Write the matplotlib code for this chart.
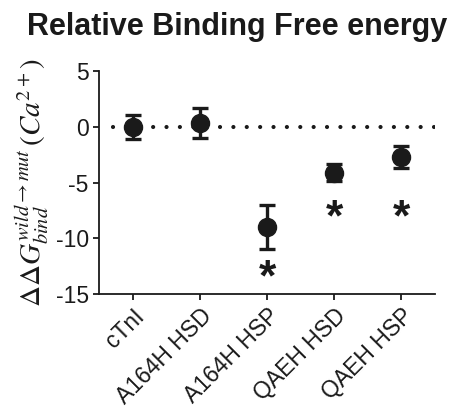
import matplotlib
matplotlib.use("Agg")
import matplotlib.pyplot as plt
import numpy as np

plt.rcParams['font.family'] = ['Liberation Sans', 'DejaVu Sans']
plt.rcParams['mathtext.fontset'] = 'stix'
plt.rcParams['axes.unicode_minus'] = False

# data
labels = ["cTnI", "A164H HSD", "A164H HSP", "QAEH HSD", "QAEH HSP"]
means = [0.0, 0.3, -9.0, -4.1, -2.7]
errors = [1.1, 1.35, 2.0, 0.8, 1.0]
star_y = [None, None, -12.4, -7.0, -7.0]

ink = '#1a1a1a'
fig = plt.figure(figsize=(4.55, 4.13), dpi=100)
ax = fig.add_axes([0.218, 0.288, 0.738, 0.54])

x = np.arange(len(labels))
ax.axhline(0, color=ink, linestyle=(0, (0.01, 3.2)), linewidth=3,
           dash_capstyle='round', xmin=0.041, zorder=1)
ax.errorbar(x, means, yerr=errors, fmt='o', color=ink, markersize=13,
            elinewidth=2.4, capsize=5.6, capthick=2.4, zorder=3)

star_fs = 32
for xi, sy in zip(x, star_y):
    if sy is not None:
        ax.annotate("*", (xi, sy), xytext=(0, -0.58 * star_fs),
                    textcoords='offset points', ha='center', va='baseline',
                    fontsize=star_fs, fontweight='bold', color=ink)

ax.set_xlim(-0.5, 4.5)
ax.set_ylim(-15, 5)
ax.set_yticks([5, 0, -5, -10, -15])
ax.set_xticks(x)
ax.set_xticklabels(labels, rotation=45, ha='right', rotation_mode='anchor')
ax.tick_params(axis='both', labelsize=16.5, width=1.3, length=4.5, color=ink,
               labelcolor=ink)
ax.tick_params(axis='y', pad=3)
ax.tick_params(axis='x', pad=3)
for s in ['top', 'right']:
    ax.spines[s].set_visible(False)
for s in ['left', 'bottom']:
    ax.spines[s].set_linewidth(1.3)
    ax.spines[s].set_color(ink)

ax.set_ylabel(r'$\Delta\Delta G_{bind}^{wild\rightarrow mut}\,(Ca^{2+})$',
              fontsize=21, labelpad=3, color=ink)
fig.text(0.521, 1 - 35 / 413, 'Relative Binding Free energy', fontsize=22,
         fontweight='bold', ha='center', va='baseline', color=ink)

fig.savefig('out.png', dpi=100)
